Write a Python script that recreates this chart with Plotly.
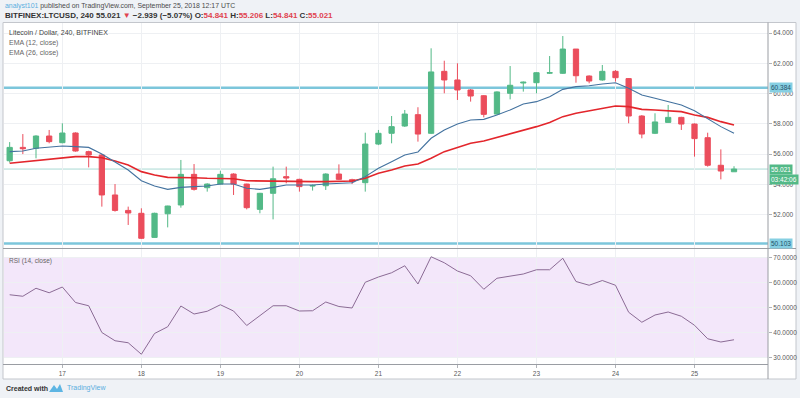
import pandas as pd
import plotly.graph_objects as go

# ---------------- data ----------------
start_time = "2018-09-16 08:00"
n_candles = 56
times = pd.date_range(start_time, periods=n_candles, freq="4h")

opens = [55.57, 56.45, 56.39, 57.20, 56.76, 57.40, 56.17, 55.95, 53.31, 52.29,
         52.10, 50.51, 52.07, 52.65, 54.67, 53.79, 54.03, 54.69, 54.03, 52.36,
         53.42, 54.52, 54.34, 53.90, 53.92, 54.69, 54.32, 54.12, 56.67, 57.38,
         57.86, 58.61, 57.38, 61.47, 60.90, 60.24, 59.86, 58.65, 60.02, 60.70,
         60.72, 61.35, 61.34, 62.94, 61.16, 60.90, 61.47, 60.99, 58.52, 57.38,
         58.10, 58.43, 57.99, 57.09, 55.27, 54.841]
highs = [56.80, 57.33, 57.25, 57.60, 58.04, 57.44, 56.23, 56.01, 54.03, 52.54,
         52.43, 52.14, 52.60, 55.62, 55.35, 54.08, 54.91, 54.74, 54.05, 53.45,
         55.18, 55.18, 54.38, 54.00, 54.74, 55.33, 54.38, 57.42, 57.60, 58.52,
         58.92, 59.10, 62.99, 62.17, 62.00, 60.30, 59.90, 60.15, 61.82, 60.80,
         61.42, 62.48, 63.80, 62.94, 61.20, 61.89, 61.55, 61.03, 58.58, 58.70,
         59.25, 58.47, 58.03, 57.42, 56.32, 55.206]
lows = [55.45, 56.01, 55.73, 56.72, 56.72, 56.17, 55.13, 52.54, 52.21, 51.33,
        50.40, 50.50, 51.17, 52.47, 53.60, 53.53, 54.00, 53.31, 52.36, 52.10,
        51.70, 54.08, 53.53, 53.60, 53.64, 54.30, 54.03, 53.53, 56.60, 56.72,
        57.80, 56.83, 57.33, 60.02, 59.58, 59.47, 58.43, 58.60, 59.62, 60.13,
        60.02, 61.30, 61.30, 60.72, 60.68, 60.85, 60.79, 58.04, 57.05, 57.33,
        58.08, 57.60, 55.84, 55.18, 54.34, 54.841]
closes = [56.45, 56.36, 57.20, 56.83, 57.40, 56.21, 55.95, 53.31, 52.29, 52.12,
          50.45, 52.10, 52.58, 54.67, 53.68, 54.03, 54.67, 54.03, 52.47, 53.42,
          54.38, 54.43, 53.86, 53.93, 54.69, 54.34, 54.19, 56.67, 57.38, 57.82,
          58.65, 57.33, 61.43, 60.90, 60.24, 59.84, 58.63, 60.11, 60.55, 60.75,
          61.38, 61.38, 62.94, 61.18, 60.83, 61.47, 61.05, 58.52, 57.33, 58.13,
          58.43, 57.99, 57.03, 55.27, 54.89, 55.021]

ema12 = [56.17, 56.21, 56.39, 56.45, 56.54, 56.50, 56.45, 56.01, 55.51, 54.96,
         54.25, 53.90, 53.68, 53.81, 53.86, 53.90, 54.03, 54.03, 53.75, 53.68,
         53.81, 53.97, 53.97, 53.97, 54.03, 54.08, 54.12, 54.52, 55.07, 55.51,
         55.95, 56.15, 57.05, 57.60, 57.99, 58.26, 58.30, 58.59, 58.92, 59.31,
         59.47, 59.80, 60.28, 60.46, 60.52, 60.63, 60.72, 60.35, 59.91, 59.69,
         59.47, 59.25, 58.87, 58.37, 57.82, 57.38]
ema26 = [55.40, 55.49, 55.62, 55.68, 55.77, 55.84, 55.84, 55.77, 55.55, 55.29,
         54.85, 54.63, 54.47, 54.47, 54.45, 54.41, 54.41, 54.38, 54.25, 54.23,
         54.23, 54.23, 54.19, 54.19, 54.19, 54.21, 54.23, 54.41, 54.74, 54.96,
         55.22, 55.35, 55.73, 56.17, 56.45, 56.72, 56.87, 57.11, 57.33, 57.55,
         57.82, 58.10, 58.48, 58.70, 58.87, 59.03, 59.18, 59.14, 58.96, 58.92,
         58.87, 58.81, 58.59, 58.43, 58.15, 57.93]
rsi14 = [55.1, 54.5, 57.7, 55.9, 58.2, 52.0, 50.7, 40.0, 36.7, 35.9,
         31.3, 39.6, 42.3, 50.6, 47.4, 48.5, 51.1, 48.6, 42.8, 46.9,
         50.7, 50.7, 48.6, 48.7, 52.2, 50.4, 49.8, 60.1, 62.2, 63.9,
         66.7, 59.4, 70.3, 67.9, 64.6, 62.7, 57.3, 61.7, 62.7, 63.4,
         65.1, 65.1, 69.7, 60.4, 58.9, 60.8, 58.9, 48.1, 44.1, 47.0,
         48.2, 46.5, 42.9, 37.5, 36.2, 37.1]

price_ticks = [52, 54, 56, 58, 60, 62, 64]
rsi_ticks = [30, 40, 50, 60, 70]
day_ticks = ["2018-09-17", "2018-09-18", "2018-09-19", "2018-09-20", "2018-09-21",
             "2018-09-22", "2018-09-23", "2018-09-24", "2018-09-25"]
day_labels = ["17", "18", "19", "20", "21", "22", "23", "24", "25"]

level_high = 60.384
level_low = 50.103
last_price = 55.021
countdown = "03:42:06"

# ---------------- styling ----------------
W, H = 800, 398
def px(x):
    return x / W
def py(y):
    return 1 - y / H

GREEN = "#53b987"
RED = "#eb4d5c"
FONT = "Liberation Sans"
GRID = "#eef0f3"
TXT = "#5a5a5a"

x_left, x_right = 4, 768
t0 = times[0]
step = pd.Timedelta(hours=4)
x_range = [t0 - 0.43 * step, t0 + 57.58 * step]

fig = go.Figure()

fig.add_trace(go.Candlestick(
    x=times, open=opens, high=highs, low=lows, close=closes,
    increasing=dict(line=dict(color=GREEN, width=1), fillcolor=GREEN),
    decreasing=dict(line=dict(color=RED, width=1), fillcolor=RED),
    whiskerwidth=0, xaxis="x", yaxis="y", showlegend=False, hoverinfo="skip"))
fig.add_trace(go.Scatter(x=times, y=ema26, mode="lines",
                         line=dict(color="#e3262c", width=1.6),
                         xaxis="x", yaxis="y", showlegend=False, hoverinfo="skip"))
fig.add_trace(go.Scatter(x=times, y=ema12, mode="lines",
                         line=dict(color="#43729f", width=1.1),
                         xaxis="x", yaxis="y", showlegend=False, hoverinfo="skip"))
fig.add_trace(go.Scatter(x=times, y=rsi14, mode="lines",
                         line=dict(color="#8b6b95", width=1),
                         xaxis="x2", yaxis="y2", showlegend=False, hoverinfo="skip"))

main_dom = [py(248), py(23)]
rsi_dom = [py(364), py(249)]

tickfont = dict(family=FONT, size=6.5, color=TXT)
fig.update_layout(
    width=W, height=H,
    margin=dict(l=0, r=0, t=0, b=0),
    paper_bgcolor="#eff2f6",
    plot_bgcolor="rgba(0,0,0,0)",
    boxgap=0.43,
    xaxis=dict(domain=[px(x_left), px(x_right)], range=x_range, anchor="y",
               showticklabels=False, showgrid=True, gridcolor=GRID,
               tickvals=day_ticks, rangeslider=dict(visible=False),
               zeroline=False, showline=False),
    xaxis2=dict(domain=[px(x_left), px(x_right)], range=x_range, anchor="y2",
                matches="x", tickvals=day_ticks, ticktext=day_labels,
                showgrid=True, gridcolor=GRID, tickfont=tickfont,
                ticks="outside", ticklen=3, tickcolor="#b0b3b8",
                zeroline=False, showline=False),
    yaxis=dict(domain=main_dom, range=[49.81, 64.66], side="right", anchor="x",
               tickvals=price_ticks, tickformat=".3f", tickfont=tickfont,
               showgrid=True, gridcolor=GRID, ticks="outside", ticklen=3,
               tickcolor="#b0b3b8", zeroline=False, showline=False),
    yaxis2=dict(domain=rsi_dom, range=[27.4, 73.4], side="right", anchor="x2",
                tickvals=rsi_ticks, tickformat=".4f", tickfont=tickfont,
                showgrid=True, gridcolor=GRID, ticks="outside", ticklen=3,
                tickcolor="#b0b3b8", zeroline=False, showline=False),
)

shapes = []
# white chart box
shapes.append(dict(type="rect", xref="paper", yref="paper", x0=px(3), x1=px(796),
                   y0=py(379), y1=py(22.5), fillcolor="white",
                   line=dict(color="#c3c6cc", width=1), layer="below"))
# RSI band
shapes.append(dict(type="rect", xref="paper", yref="y2", x0=px(x_left), x1=px(x_right),
                   y0=30, y1=70, fillcolor="#f3e7fa", line=dict(width=0), layer="below"))
for lv in (30, 70):
    shapes.append(dict(type="line", xref="paper", yref="y2", x0=px(x_left), x1=px(x_right),
                       y0=lv, y1=lv, line=dict(color="#b9b9c0", width=1, dash="dash"),
                       layer="below"))
# key levels
for lv in (level_high, level_low):
    shapes.append(dict(type="line", xref="paper", yref="y", x0=px(x_left), x1=px(x_right),
                       y0=lv, y1=lv, line=dict(color="#7cc6db", width=2.4), layer="below"))
shapes.append(dict(type="line", xref="paper", yref="y", x0=px(x_left), x1=px(x_right),
                   y0=last_price, y1=last_price, line=dict(color="#a9d9d3", width=1),
                   layer="below"))
# separators
shapes.append(dict(type="line", xref="paper", yref="paper", x0=px(x_right), x1=px(x_right),
                   y0=py(379), y1=py(22.5), line=dict(color="#9a9da3", width=1)))
shapes.append(dict(type="line", xref="paper", yref="paper", x0=px(3), x1=px(796),
                   y0=py(248.5), y1=py(248.5), line=dict(color="#9a9da3", width=1)))
shapes.append(dict(type="line", xref="paper", yref="paper", x0=px(3), x1=px(x_right),
                   y0=py(364.5), y1=py(364.5), line=dict(color="#9a9da3", width=1)))
# TradingView logo-ish mark
shapes.append(dict(type="path", xref="paper", yref="paper",
                   path=f"M {px(49)} {py(392)} L {px(54)} {py(385)} L {px(57)} {py(389)} L {px(60)} {py(384)} L {px(63)} {py(392)} Z",
                   fillcolor="#5db5e3", line=dict(width=0)))
fig.update_layout(shapes=shapes)

ann = []
def text(x, y, s, size=7.5, color=TXT, anchor="left", **kw):
    ann.append(dict(xref="paper", yref="paper", x=px(x), y=py(y), text=s,
                    showarrow=False, xanchor=anchor, yanchor="middle",
                    font=dict(family=FONT, size=size, color=color), **kw))

text(3, 6, "<span style='color:#5aaee0'>analyst101</span> published on TradingView.com, September 25, 2018 12:17 UTC",
     size=6.9, color="#4a4a4a")
R = "#e0434f"
text(3, 16, f"<b>BITFINEX:LTCUSD, 240 55.021 <span style='color:{R}'>▼</span> −2.939 (−5.07%) O:<span style='color:{R}'>54.841</span> H:<span style='color:{R}'>55.206</span> L:<span style='color:{R}'>54.841</span> C:<span style='color:{R}'>55.021</span></b>",
     size=8, color="#333333")
text(7, 33, "Litecoin / Dollar, 240, BITFINEX", size=7, color="#444444")
text(7, 43, "EMA (12, close)", size=7, color="#666666")
text(7, 53, "EMA (26, close)", size=7, color="#666666")
text(7, 261, "RSI (14, close)", size=6.5, color="#666666")
text(4, 388, "<b>Created with</b>", size=7, color="#333333")
text(65, 388, "TradingView", size=7, color="#5aaee0")

def tag(yv, s, bg, fg, yref="y", yshift=0):
    ann.append(dict(xref="paper", yref=yref, x=px(769), y=yv, text=s, showarrow=False,
                    xanchor="left", yanchor="middle", bgcolor=bg, borderpad=1,
                    yshift=yshift,
                    font=dict(family=FONT, size=6.5, color=fg)))
tag(level_high, f"{level_high:.3f}", "#86cfe2", "#24506a")
tag(level_low, f"{level_low:.3f}", "#86cfe2", "#24506a")
tag(last_price, f"{last_price:.3f}", GREEN, "white")
tag(last_price, countdown, GREEN, "white", yshift=-10)
fig.update_layout(annotations=ann)

fig.write_html("out.html", config={"displayModeBar": False},
               post_script="document.body.style.margin='0';document.body.style.padding='0';")
